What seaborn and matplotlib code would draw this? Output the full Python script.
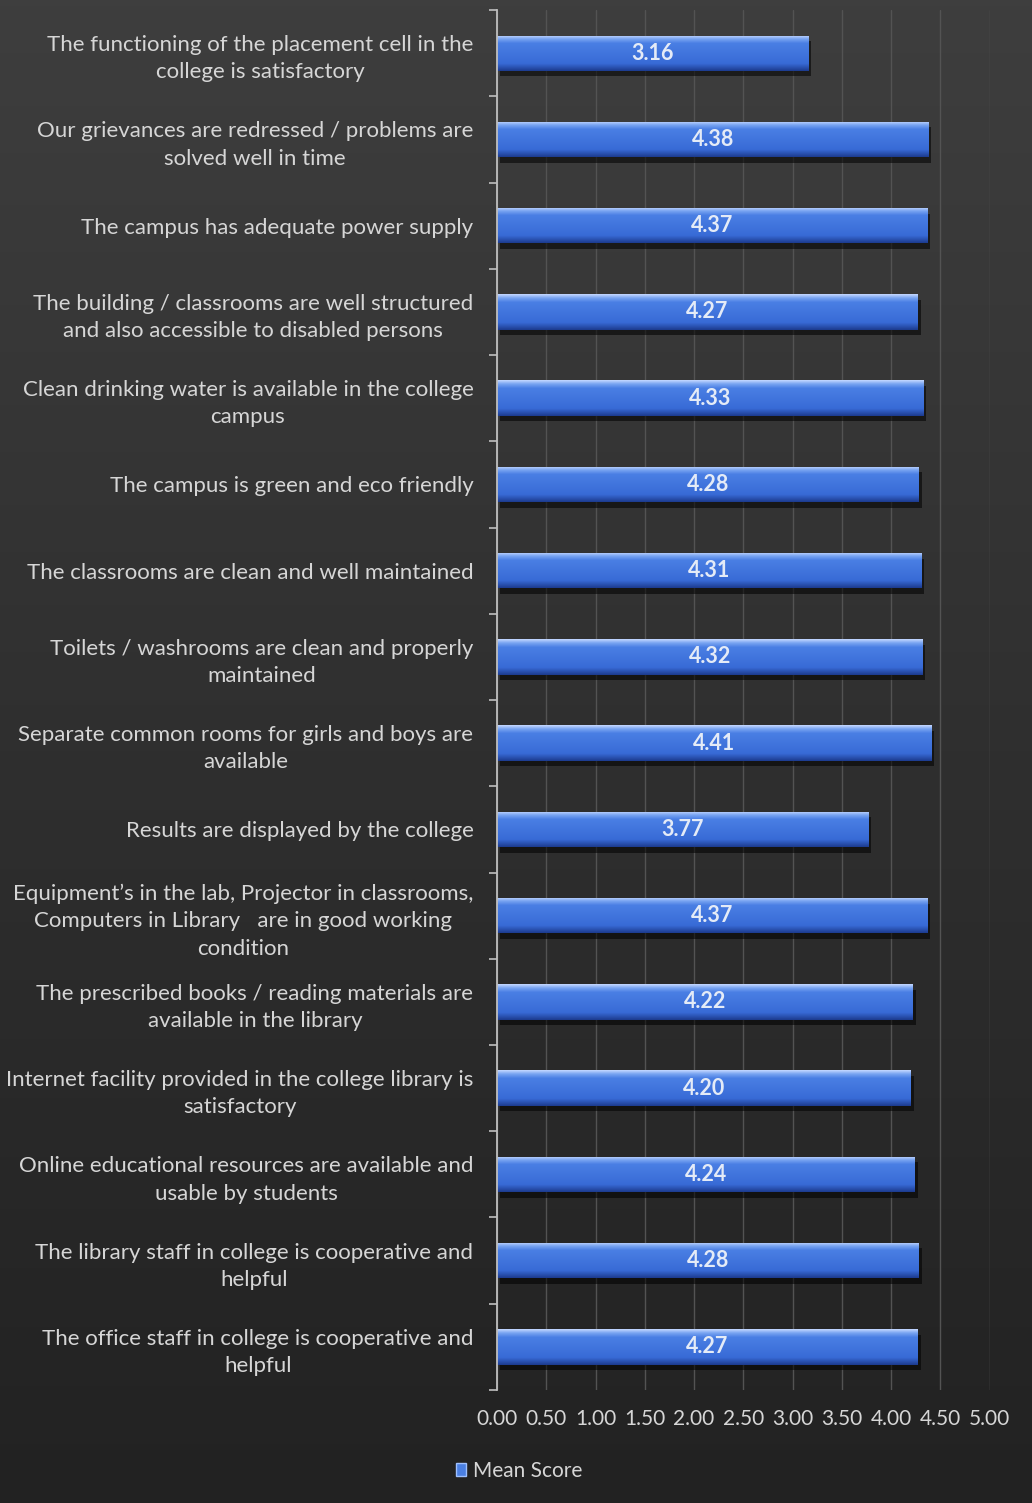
import numpy as np
import pandas as pd
import seaborn as sns
import matplotlib.pyplot as plt
from matplotlib import patheffects as pe
from matplotlib.patches import Patch
from matplotlib.colors import LinearSegmentedColormap

statements = [
    "The functioning of the placement cell in the\ncollege is satisfactory",
    "Our grievances are redressed / problems are\nsolved well in time",
    "The campus has adequate power supply",
    "The building / classrooms are well structured\nand also accessible to disabled persons",
    "Clean drinking water is available in the college\ncampus",
    "The campus is green and eco friendly",
    "The classrooms are clean and well maintained",
    "Toilets / washrooms are clean and properly\nmaintained",
    "Separate common rooms for girls and boys are\navailable",
    "Results are displayed by the college",
    "Equipment\u2019s in the lab, Projector in classrooms,\nComputers in Library   are in good working\ncondition",
    "The prescribed books / reading materials are\navailable in the library",
    "Internet facility provided in the college library is\nsatisfactory",
    "Online educational resources are available and\nusable by students",
    "The library staff in college is cooperative and\nhelpful",
    "The office staff in college is cooperative and\nhelpful",
]
mean_scores = [3.16, 4.38, 4.37, 4.27, 4.33, 4.28, 4.31, 4.32, 4.41, 3.77,
               4.37, 4.22, 4.20, 4.24, 4.28, 4.27]
x_ticks = [0.0, 0.5, 1.0, 1.5, 2.0, 2.5, 3.0, 3.5, 4.0, 4.5, 5.0]
series_name = "Mean Score"

sns.set_theme(style="dark")
plt.rcParams['font.family'] = ['Lato', 'DejaVu Sans']

TEXT = '#d6d6d6'
fig = plt.figure(figsize=(10.32, 15.03), dpi=100)

# background gradient
bg = fig.add_axes([0, 0, 1, 1], zorder=-10)
grad = np.linspace(0, 1, 256).reshape(-1, 1)
bg.imshow(grad, aspect='auto', extent=[0, 1, 0, 1],
          cmap=LinearSegmentedColormap.from_list('bg', ['#3e3e3e', '#2f2f2f', '#222222']))
bg.axis('off')

ax = fig.add_axes([0.4816, 0.0752, 0.959 - 0.4816, 0.9933 - 0.0752])
ax.patch.set_alpha(0)

df = pd.DataFrame({'Statement': statements, series_name: mean_scores})
sns.barplot(data=df, y='Statement', x=series_name, orient='h', color='#3b6fd6',
            width=0.41, saturation=1, ax=ax)

bar_cmap = LinearSegmentedColormap.from_list(
    'bar', [(0, '#c2d6ff'), (0.1, '#7aa5f2'), (0.22, '#4a7fe4'),
            (0.8, '#386ad6'), (1.0, '#1d3c90')])
bgrad = np.linspace(0, 1, 64).reshape(-1, 1)
for p in ax.patches:
    p.set_edgecolor('none')
    p.set_zorder(1.5)
    p.set_path_effects([pe.SimplePatchShadow(offset=(2, -4), shadow_rgbFace='black', alpha=0.55),
                        pe.Normal()])
    x0, y0 = p.get_x(), p.get_y()
    w, h = p.get_width(), p.get_height()
    im = ax.imshow(bgrad, aspect='auto', cmap=bar_cmap, origin='upper',
                   extent=(x0, x0 + w, y0 + h, y0), zorder=2)
    im.set_clip_path(p)

ax.bar_label(ax.containers[0], labels=[f"{v:.2f}" for v in mean_scores],
             label_type='center', color='#e4ebf7', fontsize=15.5, fontweight='bold', zorder=5)

n = len(statements)
ax.set_xlim(0, 5)
ax.set_ylim(n - 0.5, -0.5)
ax.set_xticks(x_ticks)
ax.set_xticklabels([f"{t:.2f}" for t in x_ticks])
ax.grid(axis='x', color='#535353', linewidth=1)
ax.grid(axis='y', visible=False)
ax.set_axisbelow(True)
ax.set_xlabel('')
ax.set_ylabel('')

for s in ['top', 'right', 'bottom']:
    ax.spines[s].set_visible(False)
ax.spines['left'].set_color('#bfbfbf')
ax.spines['left'].set_linewidth(1.3)

ax.tick_params(axis='x', length=0, pad=14, labelsize=15, labelcolor=TEXT)
ax.tick_params(axis='y', which='major', length=0, pad=17, labelsize=16, labelcolor=TEXT)
ax.set_yticks(np.arange(-0.5, n, 1), minor=True)
ax.tick_params(axis='y', which='minor', length=6, width=1.2, color='#bfbfbf', direction='out', left=True)
for lab in ax.get_yticklabels():
    lab.set_multialignment('center')
    lab.set_linespacing(1.45)

fig.legend(handles=[Patch(facecolor='#4a7fe2', edgecolor='#9ec0ff')], labels=[series_name],
           loc='center', bbox_to_anchor=(0.503, 0.0213), frameon=False,
           handlelength=0.5, handleheight=0.6, handletextpad=0.3,
           fontsize=15, labelcolor=TEXT)

fig.savefig('out.png', dpi=100)
